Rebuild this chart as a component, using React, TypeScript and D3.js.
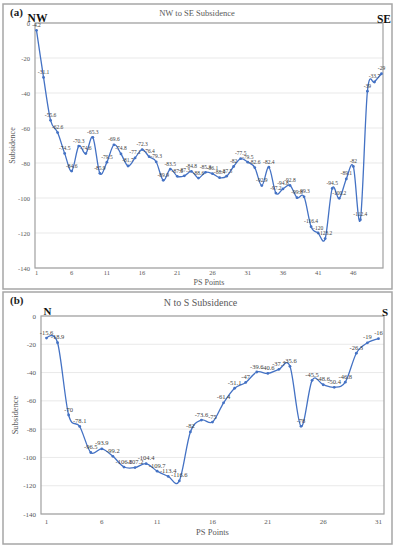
import React from "react";
import * as d3 from "d3";

const topValues = [
  -4.2, -31.1, -55.6, -62.6, -74.5, -84.6, -70.3, -74.6, -65.3, -85.9,
  -79.5, -69.6, -74.8, -81.7, -77.1, -72.3, -76.4, -79.3, -89.9, -83.5,
  -87.6, -87.3, -84.8, -88.6, -85.3, -86.1, -88.4, -87.5, -82, -77.5,
  -79.5, -82.6, -92.9, -82.4, -97.2, -94.8, -92.8, -99.8, -99.3, -116.4,
  -120, -123.2, -94.5, -100.2, -89.1, -82, -112.4, -39, -33.7, -29,
];
const topXTicks = [1, 6, 11, 16, 21, 26, 31, 36, 41, 46];
const bottomValues = [
  -15.6, -18.9, -70, -78.1, -96.5, -93.9, -99.2, -106.8, -107.2, -104.4,
  -109.7, -113.4, -116.6, -82, -73.6, -75, -61.4, -51.1, -47, -39.6,
  -40.6, -37.7, -35.6, -78, -45.5, -48.6, -50.4, -46.8, -26.3, -19, -16,
];
const bottomXTicks = [1, 6, 11, 16, 21, 26, 31];
const yTicks = [0, -20, -40, -60, -80, -100, -120, -140];

const FONT = "'Liberation Serif', 'Times New Roman', serif";
const BLUE = "#4472C4";

type PanelProps = {
  values: number[];
  xTicks: number[];
  frame: [number, number, number, number];
  plot: { l: number; r: number; t: number; b: number };
  pad: number;
  tag: string;
  title: string;
  titleY: number;
  titleSize: number;
  leftDir: string;
  rightDir: string;
  dirY: number;
  dirSize: number;
  labelSize: number;
  tickSize: number;
  yTitleX: number;
  xTitleY: number;
  xTickY: number;
};

function Panel(p: PanelProps) {
  const n = p.values.length;
  const x = d3.scaleLinear().domain([1, n]).range([p.plot.l + p.pad, p.plot.r - p.pad]);
  const y = d3.scaleLinear().domain([0, -140]).range([p.plot.t, p.plot.b]);
  const line = d3
    .line<number>()
    .x((_, i) => x(i + 1))
    .y((d) => y(d))
    .curve(d3.curveCardinal.tension(0));
  const [fx, fy, fw, fh] = p.frame;
  const cx = (p.plot.l + p.plot.r) / 2;
  return (
    <g fontFamily={FONT}>
      <rect x={fx} y={fy} width={fw} height={fh} fill="#fff" stroke="#a6a6a6" strokeWidth={1.5} />
      <text x={fx + 7} y={fy + 12} fontSize={11} fontWeight="bold" fill="#222">{p.tag}</text>
      <text x={cx - 12} y={p.titleY} fontSize={p.titleSize} fill="#595959" textAnchor="middle">{p.title}</text>
      {yTicks.map((t) => (
        <line key={t} x1={p.plot.l} x2={p.plot.r} y1={y(t)} y2={y(t)} stroke="#e3e3e3" strokeWidth={0.8} />
      ))}
      <rect x={p.plot.l} y={p.plot.t} width={p.plot.r - p.plot.l} height={p.plot.b - p.plot.t} fill="none" stroke="#a0a0a0" strokeWidth={1.2} />
      {yTicks.map((t) => (
        <text key={t} x={p.plot.l - 5} y={y(t) + 2.5} fontSize={p.tickSize} fill="#595959" textAnchor="end">{t}</text>
      ))}
      {p.xTicks.map((t) => (
        <text key={t} x={x(t)} y={p.xTickY} fontSize={p.tickSize} fill="#595959" textAnchor="middle">{t}</text>
      ))}
      <text x={cx} y={p.xTitleY} fontSize={p.tickSize + 1.5} fill="#595959" textAnchor="middle">PS Points</text>
      <text transform={`translate(${p.yTitleX},${(p.plot.t + p.plot.b) / 2}) rotate(-90)`} fontSize={p.tickSize + 1.5} fill="#595959" textAnchor="middle">Subsidence</text>
      <path d={line(p.values) || ""} fill="none" stroke={BLUE} strokeWidth={1.3} />
      {p.values.map((v, i) => (
        <circle key={i} cx={x(i + 1)} cy={y(v)} r={1.4} fill={BLUE} />
      ))}
      {p.values.map((v, i) => (
        <text key={"l" + i} x={x(i + 1)} y={y(v) - 3.5} fontSize={p.labelSize} fill="#404040" textAnchor="middle">{v}</text>
      ))}
      <text x={x(1) + 1} y={p.dirY} fontSize={p.dirSize} fontWeight="bold" fill="#111" textAnchor="middle">{p.leftDir}</text>
      <text x={p.plot.r + 1} y={p.dirY + 1} fontSize={p.dirSize} fontWeight="bold" fill="#111" textAnchor="middle">{p.rightDir}</text>
    </g>
  );
}

export default function App() {
  return (
    <svg width={394} height={550} style={{ position: "absolute", left: 0, top: 0, background: "#fff" }}>
      <Panel
        values={topValues}
        xTicks={topXTicks}
        frame={[3, 4, 389, 285]}
        plot={{ l: 35, r: 383, t: 23, b: 268 }}
        pad={1.5}
        tag="(a)"
        title="NW to SE Subsidence"
        titleY={16}
        titleSize={8.5}
        leftDir="NW"
        rightDir="SE"
        dirY={22}
        dirSize={11.5}
        labelSize={5.5}
        tickSize={6.5}
        yTitleX={15}
        xTitleY={285}
        xTickY={275}
      />
      <Panel
        values={bottomValues}
        xTicks={bottomXTicks}
        frame={[3, 292, 389, 252]}
        plot={{ l: 41, r: 384, t: 316, b: 514 }}
        pad={5.5}
        tag="(b)"
        title="N to S Subsidence"
        titleY={306}
        titleSize={10}
        leftDir="N"
        rightDir="S"
        dirY={315}
        dirSize={11}
        labelSize={6.5}
        tickSize={7}
        yTitleX={18}
        xTitleY={535}
        xTickY={524}
      />
    </svg>
  );
}
